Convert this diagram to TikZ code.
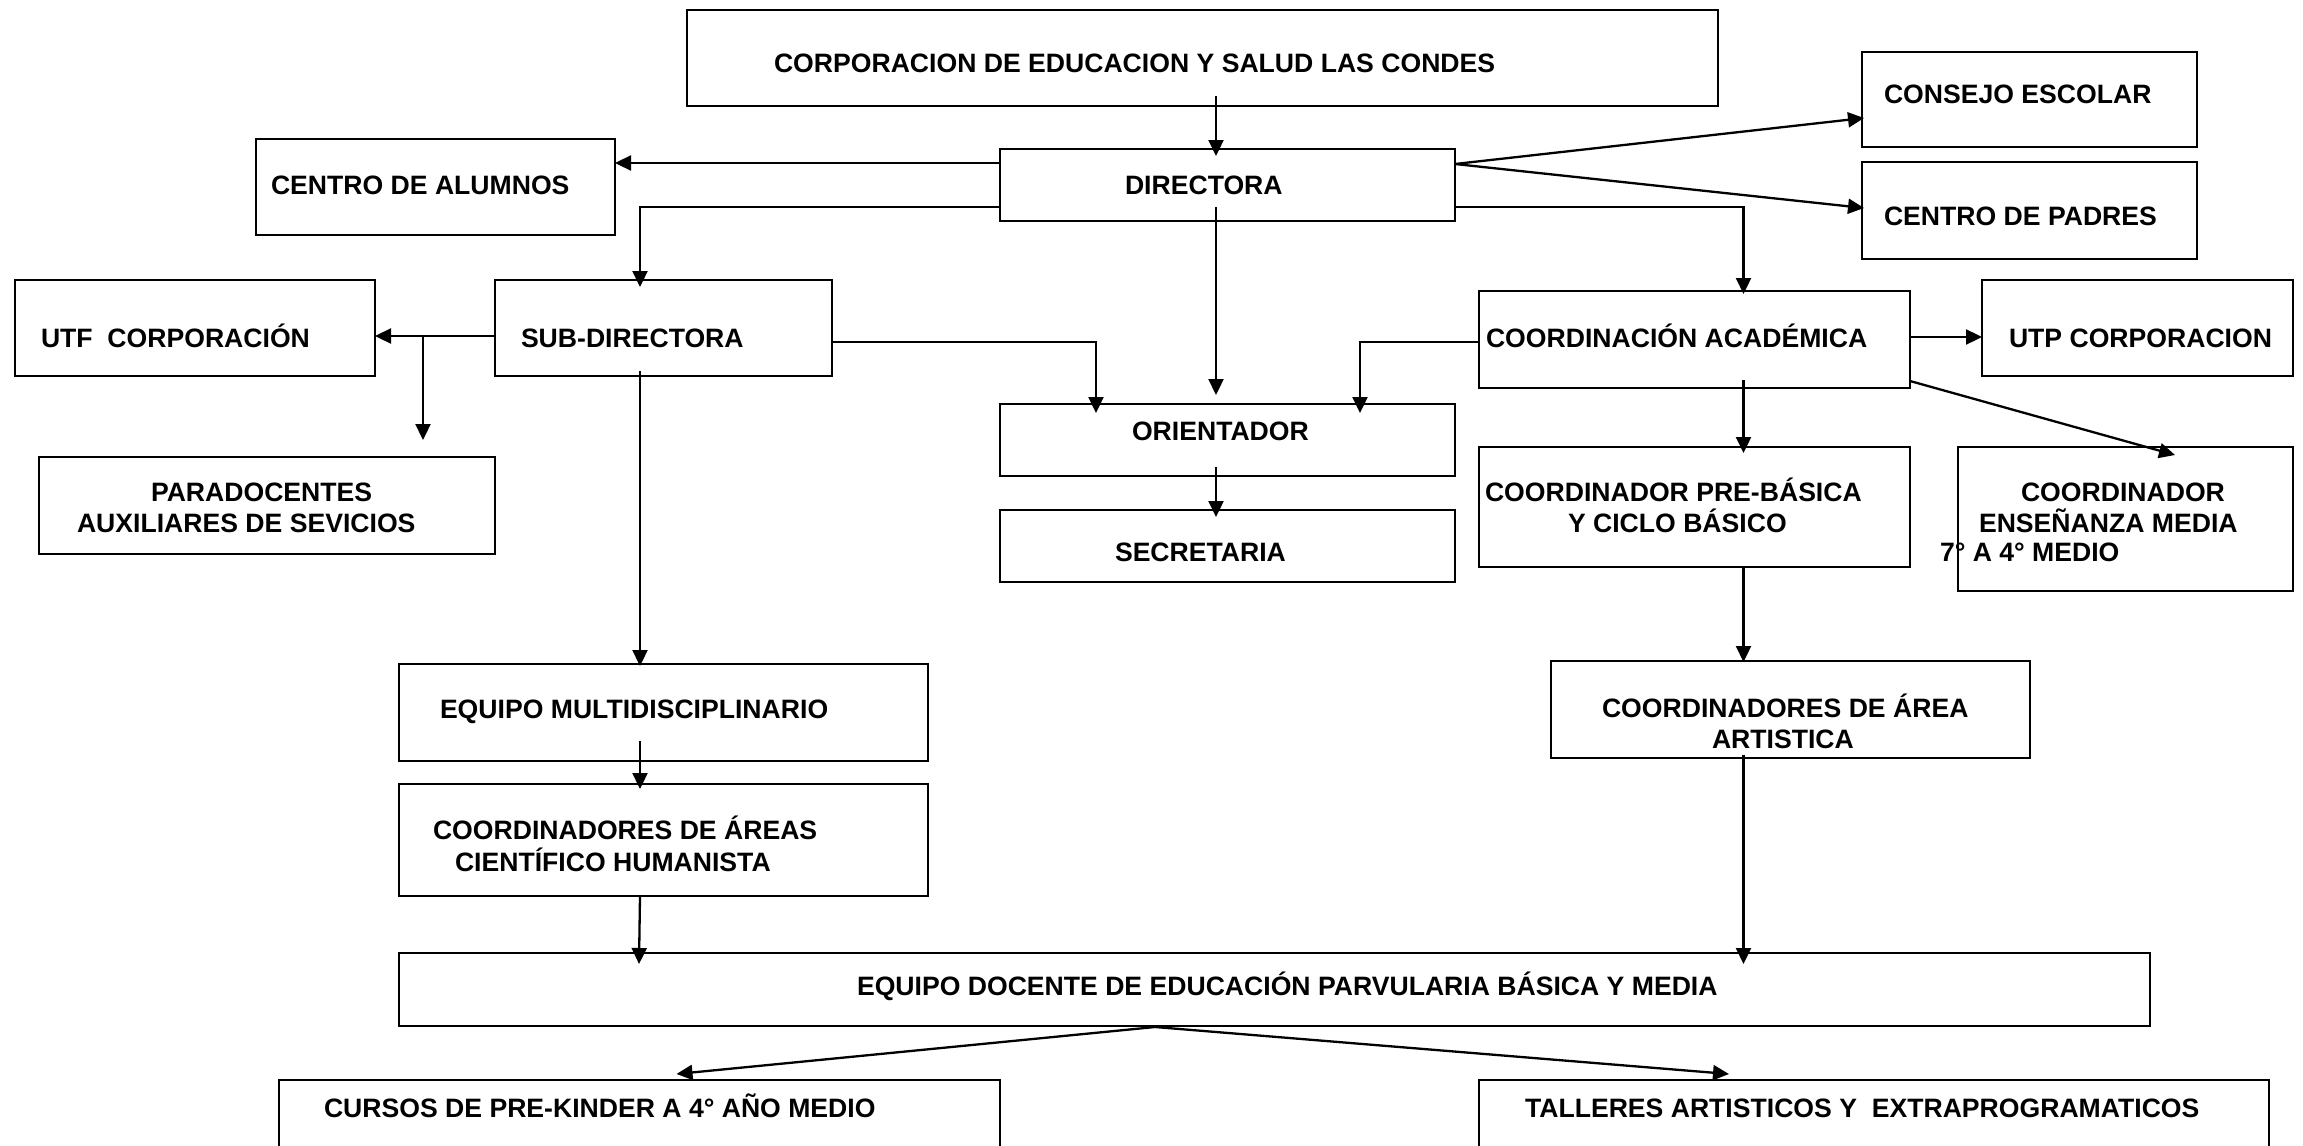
\documentclass[tikz,border=0pt]{standalone}
\usepackage{fontspec}
\setmainfont{Liberation Sans}
\usetikzlibrary{arrows.meta,calc}
\tikzset{
  box/.style={draw, line width=2pt, rectangle, inner sep=0pt, outer sep=0pt, anchor=north west},
  lbl/.style={anchor=base west, inner sep=0pt, outer sep=0pt, font=\bfseries\fontsize{26.6}{31}\selectfont},
  arr/.style={line width=2.3pt, -{Triangle[length=16pt,width=15pt]}}
}
\begin{document}
\begin{tikzpicture}[x=1pt,y=-1pt]
\useasboundingbox (0,0) rectangle (2303,1146);
\fill[white] (0,0) rectangle (2303,1146);
\clip (0,0) rectangle (2303,1146);

% boxes
\node[box, minimum width=1031pt, minimum height=96pt] (corp) at (687,10) {};
\node[box, minimum width=455pt, minimum height=72pt] (dir) at (1000,149) {};
\node[box, minimum width=359pt, minimum height=96pt] (calum) at (256,139) {};
\node[box, minimum width=335pt, minimum height=95pt] (consejo) at (1862,52) {};
\node[box, minimum width=335pt, minimum height=97pt] (padres) at (1862,162) {};
\node[box, minimum width=360pt, minimum height=96pt] (utf) at (15,280) {};
\node[box, minimum width=337pt, minimum height=96pt] (sub) at (495,280) {};
\node[box, minimum width=456pt, minimum height=97pt] (para) at (39,457) {};
\node[box, minimum width=455pt, minimum height=72pt] (orient) at (1000,404) {};
\node[box, minimum width=455pt, minimum height=72pt] (secr) at (1000,510) {};
\node[box, minimum width=431pt, minimum height=97pt] (coordac) at (1479,291) {};
\node[box, minimum width=311pt, minimum height=96pt] (utp) at (1982,280) {};
\node[box, minimum width=431pt, minimum height=120pt] (preb) at (1479,447) {};
\node[box, minimum width=335pt, minimum height=144pt] (media) at (1958,447) {};
\node[box, minimum width=529pt, minimum height=97pt] (multi) at (399,664) {};
\node[box, minimum width=529pt, minimum height=112pt] (ch) at (399,784) {};
\node[box, minimum width=479pt, minimum height=97pt] (art) at (1551,661) {};
\node[box, minimum width=1751pt, minimum height=73pt] (docente) at (399,953) {};
\node[box, minimum width=721pt, minimum height=100pt] (cursos) at (279,1080) {};
\node[box, minimum width=790pt, minimum height=100pt] (talleres) at (1479,1080) {};

% texts
\node[lbl] (tcorp) at (774,72) {CORPORACION DE EDUCACION Y SALUD LAS CONDES};
\node[lbl] (tcalum) at (271,194) {CENTRO DE ALUMNOS};
\node[lbl] (tdir) at (1125,194) {DIRECTORA};
\node[lbl] (tconsejo) at (1884,103) {CONSEJO ESCOLAR};
\node[lbl] (tpadres) at (1884,225) {CENTRO DE PADRES};
\node[lbl] (tutf) at (41,347) {UTF~~CORPORACIÓN};
\node[lbl] (tsub) at (521,347) {SUB-DIRECTORA};
\node[lbl] (tcoordac) at (1486,347) {COORDINACIÓN ACADÉMICA};
\node[lbl] (tutp) at (2009,347) {UTP CORPORACION};
\node[lbl] (tparaA) at (151,501) {PARADOCENTES};
\node[lbl] (tparaB) at (77,532) {AUXILIARES DE SEVICIOS};
\node[lbl] (torient) at (1132,440) {ORIENTADOR};
\node[lbl] (tsecr) at (1115,561) {SECRETARIA};
\node[lbl] (tprebA) at (1485,501) {COORDINADOR PRE-BÁSICA};
\node[lbl] (tprebB) at (1568,532) {Y CICLO BÁSICO};
\node[lbl] (tmediaA) at (2021,501) {COORDINADOR};
\node[lbl] (tmediaB) at (1979,532) {ENSEÑANZA MEDIA};
\node[lbl] (tmediaC) at (1940,561) {7° A 4° MEDIO};
\node[lbl] (tmulti) at (440,718) {EQUIPO MULTIDISCIPLINARIO};
\node[lbl] (tchA) at (433,839) {COORDINADORES DE ÁREAS};
\node[lbl] (tchB) at (455,871) {CIENTÍFICO HUMANISTA};
\node[lbl] (tartA) at (1602,717) {COORDINADORES DE ÁREA};
\node[lbl] (tartB) at (1712,748) {ARTISTICA};
\node[lbl] (tdoc) at (857,995) {EQUIPO DOCENTE DE EDUCACIÓN PARVULARIA BÁSICA Y MEDIA};
\node[lbl] (tcursos) at (324,1117) {CURSOS DE PRE-KINDER A 4° AÑO MEDIO};
\node[lbl] (ttalleres) at (1525,1117) {TALLERES ARTISTICOS Y~~EXTRAPROGRAMATICOS};

% junctions
\coordinate (j1) at ($(utf.east)+(48,8)$);
\coordinate (j2) at ($(docente.south)+(-119.5,1)$);
\coordinate (j3) at ($(dir.east)+(0,-21)$);

% connectors
\draw[arr] ($(corp.south)+(13.5,-10)$) -- ($(dir.north)+(-11.5,7)$);
\draw[arr] ($(dir.west)+(0,-22)$) -- ($(calum.east)+(0,-24)$);
\draw[arr] ($(dir.west)+(0,22)$) -| ($(sub.north)+(-23.5,7)$);
\draw[arr] (j3) -- ($(consejo.west)+(2,18.5)$);
\draw[arr] (j3) -- ($(padres.west)+(2,-2.5)$);
\draw[arr] ($(dir.east)+(0,22)$) -| ($(coordac.north)+(49,3)$);
\draw[arr] ($(dir.south)+(-11.5,-14)$) -- ($(orient.north)+(-11.5,-9)$);
\draw[arr] ($(orient.south)+(-11.5,-9)$) -- ($(secr.north)+(-11.5,7)$);
\draw[arr] ($(sub.west)+(0,8)$) -- ($(utf.east)+(0,8)$);
\draw[arr] (j1) -- ($(para.north)+(156,-17)$);
\draw[arr] ($(sub.east)+(0,14)$) -| ($(orient.north)+(-131.5,9)$);
\draw[arr] ($(sub.south)+(-23.5,-5)$) -- ($(multi.north)+(-23.5,2)$);
\draw[arr] ($(coordac.west)+(0,2.5)$) -| ($(orient.north)+(132.5,9)$);
\draw[arr] ($(coordac.east)+(0,-2.5)$) -- ($(utp.west)+(0,9)$);
\draw[arr] ($(coordac.east)+(0,41.5)$) -- ($(media.north)+(49.5,8)$);
\draw[arr] ($(coordac.south)+(49,-8)$) -- ($(preb.north)+(49,6)$);
\draw[arr] ($(preb.south)+(49,0)$) -- ($(art.north)+(-47,1)$);
\draw[arr] ($(art.south)+(-47,-3)$) -- ($(docente.north)+(469,11)$);
\draw[arr] ($(multi.south)+(-23.5,-20)$) -- ($(ch.north)+(-23.5,5)$);
\draw[arr] ($(ch.south)+(-23.5,0)$) -- ($(docente.north)+(-635.5,11)$);
\draw[arr] (j2) -- ($(cursos.north)+(37,-6)$);
\draw[arr] (j2) -- ($(talleres.north)+(-145,-6)$);
\end{tikzpicture}
\end{document}
